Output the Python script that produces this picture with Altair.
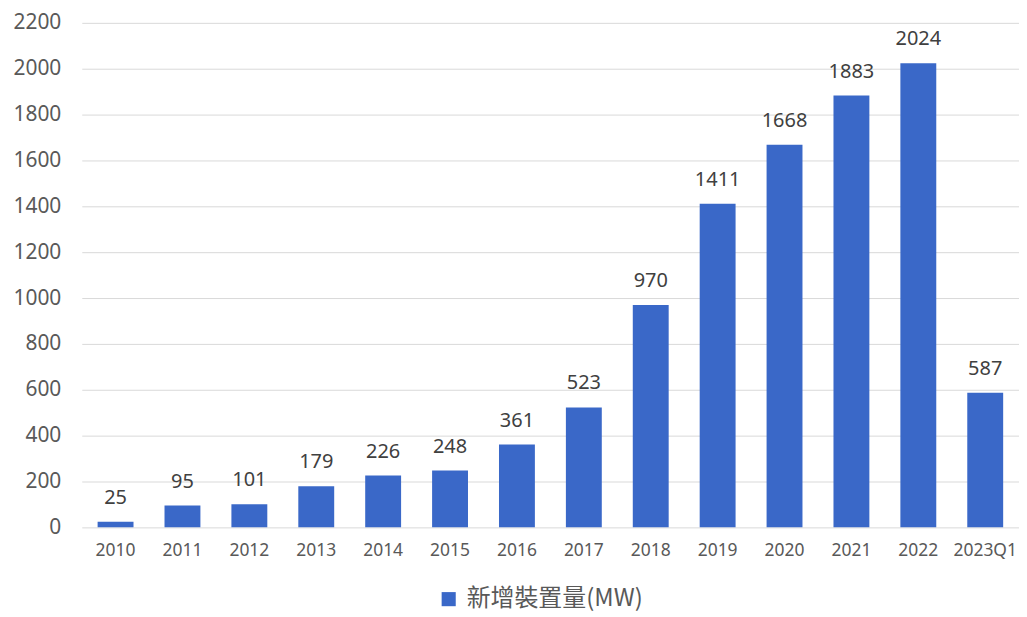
import altair as alt
import pandas as pd

categories = ["2010", "2011", "2012", "2013", "2014", "2015", "2016", "2017",
              "2018", "2019", "2020", "2021", "2022", "2023Q1"]
values = [25, 95, 101, 179, 226, 248, 361, 523, 970, 1411, 1668, 1883, 2024, 587]
series_name = "新增裝置量(MW)"
y_ticks = list(range(0, 2201, 200))

df = pd.DataFrame({"year": categories, "value": values, "series": series_name})

FONT = "Noto Sans CJK TC"
NUMFONT = "Noto Sans"
BAR = "#3A68C8"

base = alt.Chart(df).encode(
    x=alt.X("year:N", sort=categories,
            scale=alt.Scale(paddingInner=0.47, paddingOuter=0.24),
            axis=alt.Axis(title=None, labelAngle=0, labelFontSize=17.5, labelColor="#595959",
                          labelFont=NUMFONT, ticks=False, domain=False, labelPadding=14)),
    y=alt.Y("value:Q", scale=alt.Scale(domain=[0, 2200], nice=False),
            axis=alt.Axis(title=None, values=y_ticks, format="d", labelFontSize=21,
                          labelColor="#595959", labelFont=NUMFONT, ticks=False, domain=False,
                          labelPadding=21, gridColor="#d9d9d9", gridWidth=1)),
)

bars = base.mark_bar(size=36).encode(
    color=alt.Color("series:N", scale=alt.Scale(domain=[series_name], range=[BAR]),
                    legend=alt.Legend(title=None, orient="none", legendX=356, legendY=566,
                                      direction="horizontal", symbolType="square",
                                      symbolSize=200, labelFontSize=24, labelFont=FONT,
                                      labelColor="#595959", symbolOpacity=1, labelOffset=6,
                                      labelLimit=400))
)

labels = base.mark_text(dy=-24, fontSize=20, font=NUMFONT, color="#404040").encode(
    text=alt.Text("value:Q", format="d")
)

chart = (bars + labels).properties(
    width=940, height=506,
    autosize=alt.AutoSizeParams(type="none"),
    padding={"left": 74, "top": 14, "right": 0, "bottom": 88},
).configure_view(stroke=None)

chart.save("out.html", embed_options={"renderer": "svg", "actions": False})
